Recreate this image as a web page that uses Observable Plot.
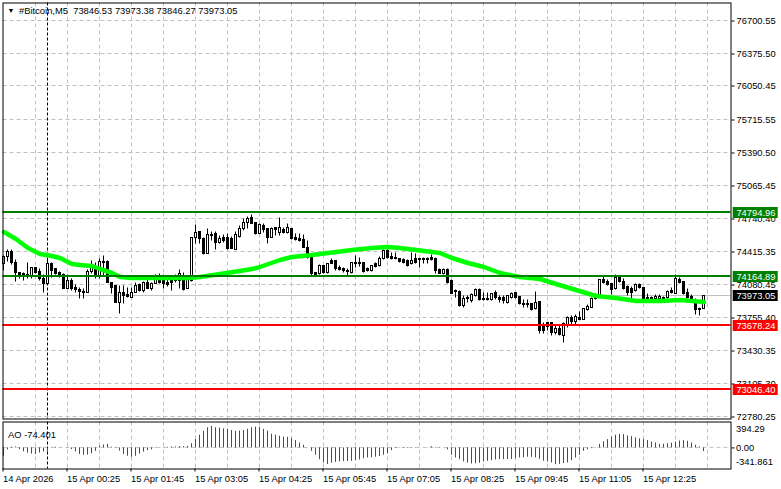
<!DOCTYPE html>
<html><head><meta charset="utf-8">
<style>html,body{margin:0;padding:0;background:#fff}svg{display:block}</style>
<script src="https://cdn.jsdelivr.net/npm/d3@7"></script>
<script src="https://cdn.jsdelivr.net/npm/@observablehq/plot@0.6"></script>
</head><body><div id="chart"></div>
<script>
const opens=[74294,74363,74413,74304,74205,74195,74185,74165,74254,74215,
74146,74096,74294,74244,74205,74185,74046,74126,74056,74036,
74017,74007,74215,74264,74175,74314,74314,74106,74076,73908,
74007,73987,73958,74007,74086,74027,74106,74046,74096,74136,
74126,74106,74126,74126,74126,74165,74046,74126,74552,74611,
74542,74393,74581,74591,74502,74552,74552,74542,74433,74561,
74641,74700,74750,74700,74591,74670,74641,74552,74651,74601,
74631,74601,74641,74552,74542,74532,74453,74354,74205,74195,
74274,74205,74324,74324,74254,74244,74225,74205,74304,74304,
74304,74244,74225,74294,74274,74343,74423,74363,74353,74343,
74333,74324,74294,74343,74343,74343,74343,74353,74343,74235,
74195,74235,74126,74027,74017,73879,73958,73928,73977,74036,
73948,73948,73938,74007,73958,73958,73908,73958,74007,73967,
73898,73898,73898,73849,73918,73680,73710,73710,73611,73650,
73581,73680,73759,73720,73759,73739,73839,73859,73948,73987,
74136,74116,74096,74046,74155,74116,74066,74046,74027,74086,
74056,73958,73958,73948,73948,73948,73958,74027,73997,74136,
74116,74007,73967,73908,73849,73846.53];
const highs=[74373,74432,74432,74333,74205,74205,74304,74254,74254,74244,
74185,74343,74304,74244,74215,74195,74185,74146,74086,74056,
74046,74235,74324,74304,74343,74373,74324,74106,74076,74076,
74076,74056,74056,74106,74096,74116,74165,74106,74185,74195,
74185,74175,74155,74185,74235,74205,74165,74552,74680,74611,
74552,74641,74611,74611,74571,74581,74591,74562,74611,74670,
74740,74760,74779,74700,74690,74690,74641,74651,74651,74750,
74651,74690,74641,74591,74591,74581,74522,74354,74205,74284,
74274,74294,74343,74324,74274,74254,74244,74304,74373,74354,
74304,74254,74274,74304,74363,74433,74433,74403,74403,74343,
74343,74333,74403,74393,74343,74353,74353,74383,74353,74244,
74244,74244,74136,74036,74027,73977,73977,73997,74046,74046,
74007,74007,73997,74027,73977,73977,73977,74007,74007,73967,
73938,73938,73898,74017,73918,73710,73710,73710,73680,73680,
73710,73769,73779,73789,73819,73849,73889,73958,73997,74136,
74175,74136,74096,74185,74155,74146,74076,74066,74096,74096,
74056,73997,73967,73987,73987,73967,74027,74056,74185,74155,
74116,74046,73987,73948,73859,73973.38];
const lows=[74225,74314,74284,74116,74146,74126,74146,74146,74195,74126,
74007,74096,74155,74185,74155,74046,74046,74027,74007,73948,
73948,74007,74195,74146,74146,74175,74106,73997,73908,73799,
73898,73958,73958,74007,74017,74007,74046,74027,74096,74096,
74046,74066,74027,74106,74046,74027,74046,74116,74492,74492,
74383,74393,74522,74433,74492,74502,74433,74443,74433,74552,
74621,74641,74690,74581,74591,74601,74492,74552,74571,74571,
74591,74591,74532,74522,74512,74453,74344,74175,74175,74185,
74195,74195,74294,74225,74225,74205,74175,74195,74254,74264,
74205,74215,74215,74254,74264,74333,74343,74333,74333,74304,
74294,74264,74284,74294,74254,74294,74294,74324,74195,74195,
74185,74096,73997,73958,73869,73859,73908,73908,73967,73928,
73928,73928,73928,73938,73908,73898,73898,73948,73948,73889,
73859,73859,73829,73839,73601,73601,73631,73581,73591,73581,
73512,73660,73690,73690,73739,73739,73829,73859,73938,73977,
74096,74076,73987,74036,74106,74036,73977,73948,74017,74046,
73938,73938,73938,73938,73938,73938,73948,73997,73997,74096,
73987,73948,73908,73789,73779,73846.27];
const closes=[74363,74413,74304,74205,74165,74165,74165,74254,74205,74146,
74096,74294,74225,74195,74165,74046,74126,74046,74036,74017,
74007,74215,74274,74175,74314,74304,74106,74056,73908,74007,
73977,73967,74007,74076,74027,74106,74046,74096,74146,74106,
74096,74086,74106,74175,74195,74036,74136,74552,74601,74542,
74393,74581,74571,74502,74542,74522,74443,74443,74581,74641,
74700,74740,74690,74591,74680,74631,74552,74641,74631,74651,
74601,74651,74542,74532,74522,74453,74354,74195,74185,74274,
74205,74294,74294,74244,74235,74225,74215,74304,74294,74294,
74215,74225,74274,74264,74343,74423,74353,74343,74343,74314,
74304,74274,74324,74304,74333,74333,74333,74333,74225,74195,
74235,74106,73997,74017,73879,73948,73948,73987,74036,73938,
73938,73938,73997,73958,73938,73928,73977,73997,73958,73898,
73889,73889,73839,73908,73631,73631,73670,73611,73650,73591,
73700,73759,73720,73769,73739,73849,73869,73948,73987,74136,
74106,74086,74036,74155,74116,74046,74007,74007,74086,74056,
73948,73948,73948,73967,73967,73958,74017,74007,74146,74106,
73997,73958,73948,73839,73839,73973.05];

const maIndex=[0,3,6,9,12,14,17,19,22,24,27,29,32,37,41,46,49,54,59,62,64,69,72,77,83,87,92,96,99,103,109,112,116,120,124,129,134,138,143,148,153,158,164,169,175];
const maValue=[74611,74542,74453,74393,74373,74354,74294,74284,74274,74244,74205,74165,74155,74155,74155,74155,74165,74195,74225,74244,74268,74333,74363,74383,74413,74433,74453,74462,74453,74433,74403,74354,74304,74264,74205,74165,74146,74096,74036,73977,73958,73928,73928,73938,73918];

const aoValues=[-170,-40,15,20,-35,-80,-105,-125,-135,-105,-85,-90,10,15,2,0,5,-35,-80,-135,
-150,-145,-120,-70,35,60,70,15,-5,-65,-135,-170,-190,-170,-125,-85,-55,-40,-10,0,
5,12,18,22,25,28,30,85,170,260,340,410,437,410,405,390,375,355,340,345,
355,380,410,425,420,380,345,280,260,240,220,215,190,150,100,55,0,-70,-150,-240,
-305,-339,-310,-295,-285,-280,-278,-272,-260,-245,-220,-205,-200,-190,-175,-150,-120,-55,-14,5,
7,-12,5,7,2,0,5,25,12,5,0,-40,-150,-205,-240,-285,-310,-328,-325,-315,
-287,-272,-260,-245,-240,-238,-237,-236,-220,-205,-204,-190,-192,-205,-232,-272,-287,-307,-341.861,-335,
-320,-305,-260,-205,-150,-70,-40,-14,5,70,125,170,220,260,275,272,245,232,205,185,
170,150,120,100,70,75,85,95,120,140,150,135,100,55,20,-74.401];

const priceTicks=[76700.55,76375.50,76050.45,75715.55,75390.50,75065.45,74740.40,74415.35,74080.45,73755.40,73430.35,73105.30,72780.25];
const greenLevels=[74794.96,74164.89];
const redLevels=[73678.24,73046.40];
const lastPrice=73973.05;
const gridIndex=d3.range(8,177,8);
const crossIndex=11;
const timeIndex=[0,16,32,48,64,80,96,112,128,144,160];
const timeLabels=["14 Apr 2026","15 Apr 00:25","15 Apr 01:45","15 Apr 03:05","15 Apr 04:25","15 Apr 05:45","15 Apr 07:05","15 Apr 08:25","15 Apr 09:45","15 Apr 11:05","15 Apr 12:25"];
const header="#Bitcoin,M5  73846.53 73973.38 73846.27 73973.05";
const aoHeader="AO -74.401";

const candles=opens.map((o,i)=>({i,o,h:highs[i],l:lows[i],c:closes[i]}));
const ma=maIndex.map((i,k)=>({i,v:maValue[k]}));
const ao=aoValues.map((v,i)=>({i,v,rising:i===0||v>=aoValues[i-1]}));
const labels=[
  ...greenLevels.map(v=>({v,color:"#008000"})),
  ...redLevels.map(v=>({v,color:"#ff0000"})),
  {v:lastPrice,color:"#000000"}
];
const off=window.devicePixelRatio>1?0:-0.5;
const snap=(a,b)=>t=>Math.round(a+(b-a)*t)+0.5;
const xScale={domain:[-0.25,181.75],range:[2.5,730.5],axis:null};
const style={fontFamily:"'Liberation Sans',Arial,sans-serif",fontSize:"9.4px",background:"#fff",color:"#000",overflow:"visible"};
const grey="#c0c0c0";

const main=Plot.plot({
  width:781,height:421,marginTop:2.5,marginBottom:2.5,marginLeft:2.5,marginRight:50.5,
  style,
  x:xScale,
  y:{domain:[72753.42,76871.82],range:[418.5,2.5],interpolate:snap},
  marks:[
    Plot.ruleY(priceTicks,{stroke:grey,strokeDasharray:"4 3",dy:off}),
    Plot.ruleX(gridIndex,{stroke:grey,strokeDasharray:"4 3",dx:off}),
    Plot.ruleY([lastPrice],{stroke:grey,dy:off}),
    Plot.ruleX([crossIndex],{stroke:"#000",strokeDasharray:"3 2",dx:off}),
    Plot.ruleX(candles,{x:"i",y1:"l",y2:"h",stroke:"#000",strokeWidth:1,dx:off}),
    Plot.rect(candles,{x1:d=>d.i-0.25,x2:d=>d.i+0.25,y1:d=>Math.min(d.o,d.c),y2:d=>Math.max(d.o,d.c),
      fill:d=>d.c>=d.o?"#ffffff":"#000000",stroke:"#000",strokeWidth:1}),
    Plot.line(ma,{x:"i",y:"v",stroke:"#00ff00",strokeWidth:4.5,curve:"linear"}),
    Plot.ruleY(greenLevels,{stroke:"#008000",strokeWidth:2,dy:2*off}),
    Plot.ruleY(redLevels,{stroke:"#ff0000",strokeWidth:2,dy:2*off}),
    Plot.axisY(priceTicks,{anchor:"right",tickSize:3,tickPadding:2.5,tickFormat:d=>d.toFixed(2),label:null,stroke:"#000",fill:"#000"}),
    Plot.ruleY(labels,{y:"v",x1:182.3,x2:193.55,stroke:"color",strokeWidth:11,dy:off}),
    Plot.text(labels,{y:"v",x:183.1,text:d=>d.v.toFixed(2),textAnchor:"start",fill:"#fff"}),
    Plot.frame({stroke:"#000"}),
    Plot.text(["▼"],{frameAnchor:"top-left",dx:4.5,dy:5,lineAnchor:"top",fontSize:7,fill:"#000"}),
    Plot.text([header],{frameAnchor:"top-left",dx:16,dy:4.5,lineAnchor:"top",fill:"#000",textAnchor:"start",style:{whiteSpace:"pre"}})
  ]
});

const aoTop=394.29, aoBottom=-341.861;
const aoPlot=Plot.plot({
  width:781,height:68,marginTop:0.5,marginBottom:20.5,marginLeft:2.5,marginRight:50.5,
  style,
  x:xScale,
  y:{domain:[-430.5,529],range:[47.5,0.5],axis:null},
  marks:[
    Plot.ruleY([0],{stroke:grey,strokeDasharray:"4 3",dy:off}),
    Plot.ruleX(gridIndex,{stroke:grey,strokeDasharray:"4 3",dx:off}),
    Plot.ruleX([crossIndex],{stroke:"#000",strokeDasharray:"3 2",dx:off}),
    Plot.ruleX(ao.filter(d=>d.rising),{x:"i",y1:0,y2:"v",stroke:"#008000",strokeWidth:1,dx:off}),
    Plot.ruleX(ao.filter(d=>!d.rising),{x:"i",y1:0,y2:"v",stroke:"#ff0000",strokeWidth:1,dx:off}),
    Plot.axisY([0],{anchor:"right",tickSize:3,tickPadding:2,tickFormat:d=>d.toFixed(2),label:null}),
    Plot.text([aoTop],{x:181.75,y:d=>d,text:d=>d.toFixed(2),textAnchor:"start",dx:5}),
    Plot.text([aoBottom],{x:181.75,y:d=>d,text:d=>d.toFixed(3),textAnchor:"start",dx:5,dy:-2.3}),
    Plot.axisX(timeIndex,{anchor:"bottom",tickSize:3,tickPadding:3,textAnchor:"start",dx:-1,
      tickFormat:d=>timeLabels[timeIndex.indexOf(d)],label:null}),
    Plot.frame({stroke:"#000"}),
    Plot.text([aoHeader],{frameAnchor:"top-left",dx:5,dy:9,fill:"#000",textAnchor:"start"})
  ]
});
const root=document.getElementById("chart");
root.append(main,aoPlot);
</script></body></html>
